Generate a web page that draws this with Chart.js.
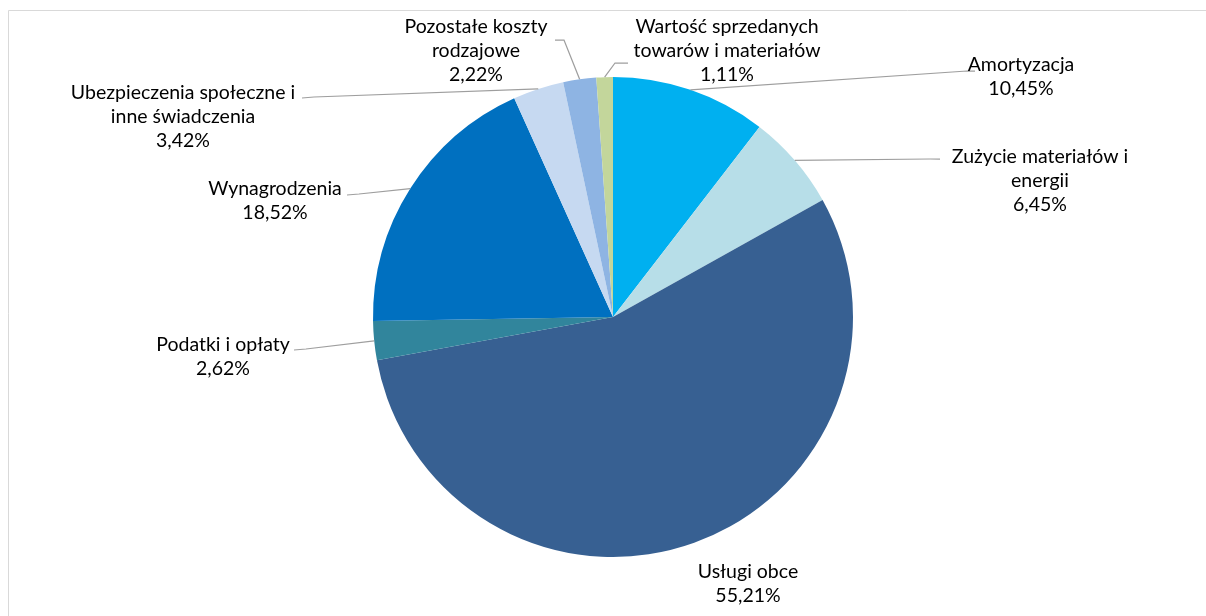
<!DOCTYPE html>
<html>
<head>
<meta charset="utf-8">
<script src="https://cdn.jsdelivr.net/npm/chart.js@4"></script>
<style>
  html, body { margin: 0; padding: 0; background: #fff; }
  #wrap { width: 1206px; height: 616px; }
</style>
</head>
<body>
<div id="wrap"><canvas id="kosztyChart" width="1206" height="616"></canvas></div>
<script>
// dane
const kategorie = [
  ['Amortyzacja'],
  ['Zużycie materiałów i', 'energii'],
  ['Usługi obce'],
  ['Podatki i opłaty'],
  ['Wynagrodzenia'],
  ['Ubezpieczenia społeczne i', 'inne świadczenia'],
  ['Pozostałe koszty', 'rodzajowe'],
  ['Wartość sprzedanych', 'towarów i materiałów']
];
const udzialy = [10.45, 6.45, 55.21, 2.62, 18.52, 3.42, 2.22, 1.11];
const kolory = ['#00B0F0', '#B7DEE8', '#376092', '#31859C', '#0070C0', '#C6D9F1', '#8EB4E3', '#C3D69B'];

// rozmieszczenie etykiet: srodek tekstu (x), y pierwszej linii, punkt zalamania linii i koniec
const etykiety = [
  { x: 1021, y: 65,  elbow: [967, 71],  end: [975, 71] },
  { x: 1040, y: 157, elbow: [930, 159], end: [940, 159] },
  { x: 748,  y: 572, elbow: null,       end: null },
  { x: 223,  y: 345, elbow: [306, 349], end: [294, 350] },
  { x: 275,  y: 189, elbow: [359, 194], end: [347, 195] },
  { x: 183,  y: 93,  elbow: [314, 97],  end: [302, 98] },
  { x: 476,  y: 27,  elbow: [564, 40],  end: [555, 40] },
  { x: 727,  y: 27,  elbow: [615, 63],  end: [628, 63] }
];

const FONT = '19.5px Lato, "Open Sans", sans-serif';
const LINE_H = 24;

function fmt(v) {
  return v.toFixed(2).replace('.', ',') + '%';
}

const ramka = {
  id: 'ramka',
  beforeDraw(chart) {
    const c = chart.ctx;
    c.save();
    c.fillStyle = '#fff';
    c.fillRect(0, 0, chart.width, chart.height);
    c.strokeStyle = '#D9D9D9';
    c.lineWidth = 1;
    c.beginPath();
    c.moveTo(8.5, chart.height + 2);
    c.lineTo(8.5, 10.5);
    c.lineTo(chart.width + 2, 10.5);
    c.stroke();
    c.restore();
  }
};

const opisy = {
  id: 'opisy',
  afterDatasetsDraw(chart) {
    const c = chart.ctx;
    const meta = chart.getDatasetMeta(0);
    c.save();
    meta.data.forEach((arc, i) => {
      const p = arc.getProps(['x', 'y', 'startAngle', 'endAngle', 'outerRadius']);
      const mid = (p.startAngle + p.endAngle) / 2;
      const px = p.x + Math.cos(mid) * p.outerRadius;
      const py = p.y + Math.sin(mid) * p.outerRadius;
      const e = etykiety[i];
      if (e.elbow) {
        c.strokeStyle = '#9E9E9E';
        c.lineWidth = 1.25;
        c.beginPath();
        c.moveTo(px, py);
        c.lineTo(e.elbow[0], e.elbow[1]);
        c.lineTo(e.end[0], e.end[1]);
        c.stroke();
      }
      const lines = kategorie[i].concat([fmt(udzialy[i])]);
      c.font = FONT;
      c.fillStyle = '#000';
      c.textAlign = 'center';
      c.textBaseline = 'middle';
      lines.forEach((t, k) => c.fillText(t, e.x, e.y + k * LINE_H));
    });
    c.restore();
  }
};

const ctx = document.getElementById('kosztyChart').getContext('2d');
new Chart(ctx, {
  type: 'pie',
  data: {
    labels: kategorie,
    datasets: [{
      data: udzialy,
      backgroundColor: kolory,
      borderWidth: 0
    }]
  },
  options: {
    responsive: false,
    animation: false,
    layout: { padding: { left: 373, right: 353, top: 77, bottom: 59 } },
    plugins: {
      legend: { display: false },
      tooltip: { enabled: false }
    }
  },
  plugins: [ramka, opisy]
});
</script>
</body>
</html>
